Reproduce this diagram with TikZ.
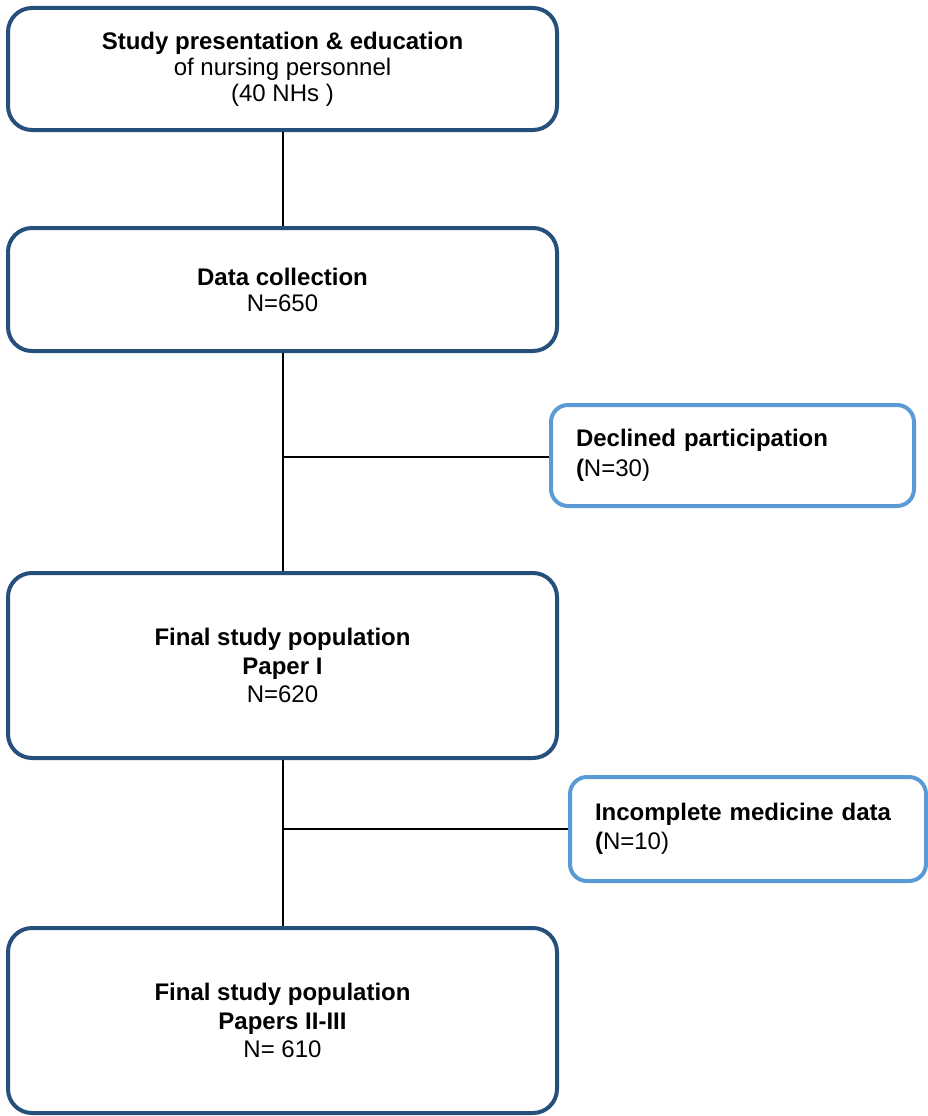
\documentclass[tikz,border=0pt]{standalone}
\usepackage{fontspec}
\setmainfont{Liberation Sans}
\definecolor{darkframe}{RGB}{38,80,124}
\definecolor{lightframe}{RGB}{91,155,213}
\begin{document}
\begin{tikzpicture}[x=1pt,y=-1pt,
  mainbox/.style={draw=darkframe, line width=4pt, rounded corners=24pt,
    minimum width=549pt, inner sep=0pt, align=center,
    font=\fontsize{24}{26}\selectfont},
  tallbox/.style={mainbox, minimum height=185pt,
    font=\fontsize{24}{28.5}\selectfont},
  sidebox/.style={draw=lightframe, line width=4pt, rounded corners=17pt,
    inner xsep=25pt, inner ysep=0pt, align=left,
    font=\fontsize{24}{29.5}\selectfont},
  link/.style={line width=2pt, black}]
\useasboundingbox (0,0) rectangle (928,1116);

\node[mainbox, minimum height=122pt] (b1) at (282.5,69)
  {\textbf{Study presentation \& education}\\of nursing personnel\\(40 NHs )};
\node[mainbox, minimum height=123pt] (b2) at (282.5,289.5)
  {\textbf{Data collection}\\N=650};
\node[sidebox, text width=313pt, minimum height=101pt] (b3) at (732.5,455.5)
  {\textbf{Declined participation}\\\textbf{(}N=30)};
\node[tallbox] (b4) at (282.5,665.5)
  {\textbf{Final study population}\\\textbf{Paper I}\\N=620};
\node[sidebox, text width=306pt, minimum height=104pt] (b5) at (748,829)
  {\textbf{Incomplete medicine data}\\\textbf{(}N=10)};
\node[tallbox] (b6) at (282.5,1020.5)
  {\textbf{Final study population}\\\textbf{Papers II-III}\\N= 610};

\coordinate (j1) at (282.5,457);
\coordinate (j2) at (282.5,829);

\draw[link] (b1.south) -- (b2.north);
\draw[link] (b2.south) -- (b4.north);
\draw[link] (j1) -- (j1 -| b3.west);
\draw[link] (b4.south) -- (b6.north);
\draw[link] (j2) -- (j2 -| b5.west);
\end{tikzpicture}
\end{document}
